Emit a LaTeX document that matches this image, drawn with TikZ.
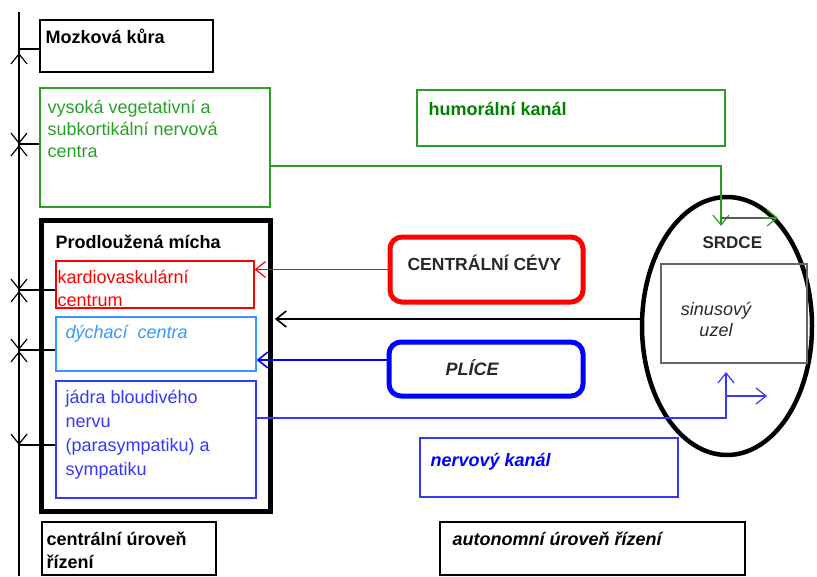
\documentclass[tikz,border=0pt]{standalone}
\usepackage{fontspec}
\setmainfont{Liberation Sans}
\usetikzlibrary{arrows.meta,shapes.geometric}
\definecolor{grn}{RGB}{40,160,40}
\definecolor{dgrn}{RGB}{0,128,0}
\definecolor{lblue}{RGB}{51,153,255}
\definecolor{mblue}{RGB}{55,55,250}
\definecolor{dgray}{RGB}{40,40,40}

\begin{document}
\begin{tikzpicture}[x=1pt, y=-1pt, line width=1.2pt,
    txt/.style={inner sep=0pt, anchor=base west, align=left, font=\fontsize{18}{22}\selectfont},
    barb/.style={-{Straight Barb[length=10pt,width=16pt]}},
    thinbox/.style={draw, inner sep=0pt},
    fatbox/.style={draw, inner sep=0pt, line width=5pt, rounded corners=12pt}]
  \useasboundingbox (0,0) rectangle (817,576);

  % boxes
  \node[thinbox, minimum width=173pt, minimum height=52pt] (moz) at (126.5,46) {};
  \node[thinbox, grn, minimum width=230pt, minimum height=119pt] (vys) at (155,147.5) {};
  \node[draw, inner sep=0pt, line width=5pt, minimum width=229pt, minimum height=291pt] (mich) at (155.5,365.5) {};
  \node[thinbox, red, minimum width=198pt, minimum height=47pt] (kard) at (155,284.5) {};
  \node[thinbox, lblue, minimum width=200pt, minimum height=54pt] (dych) at (156,344) {};
  \node[thinbox, mblue, minimum width=200pt, minimum height=117pt] (jadra) at (156,439.5) {};
  \node[fatbox, red, minimum width=193pt, minimum height=65pt] (cevy) at (486.5,269.5) {};
  \node[fatbox, blue, minimum width=194pt, minimum height=54pt] (plice) at (486,369) {};
  \node[thinbox, grn, minimum width=308pt, minimum height=56pt] (humor) at (571,118) {};
  \node[thinbox, mblue, minimum width=258pt, minimum height=59pt] (nerv) at (549,467.5) {};
  \node[draw, ellipse, line width=4.5pt, minimum width=170pt, minimum height=258pt] (srdce) at (727,326) {};
  \node[thinbox, gray!80!black, minimum width=146pt, minimum height=99pt] (sinus) at (734,313.5) {};
  \node[thinbox, minimum width=174pt, minimum height=53pt] (centr) at (129,548.5) {};
  \node[thinbox, minimum width=305pt, minimum height=53pt] (auton) at (592.5,548.5) {};

  % texts (multi-line ones sit on the baseline of their last line)
  \node[txt, font=\fontsize{18}{22}\selectfont\bfseries] (tmoz) at (45,43) {Mozková kůra};
  \node[txt, grn] (tvys) at (47,157) {vysoká vegetativní a\\subkortikální nervová\\centra};
  \node[txt, font=\fontsize{18}{22}\selectfont\bfseries] (tmich) at (55,248) {Prodloužená mícha};
  \node[txt, red, font=\fontsize{18}{23}\selectfont] (tkard) at (57,306) {kardiovaskulární\\centrum};
  \node[txt, lblue, font=\fontsize{18}{22}\selectfont\itshape] (tdych) at (65,338) {dýchací\ \ centra};
  \node[txt, mblue, font=\fontsize{18}{24}\selectfont] (tjadra) at (65,475) {jádra bloudivého\\nervu\\(parasympatiku) a\\sympatiku};
  \node[txt, dgray, font=\fontsize{17.5}{22}\selectfont\bfseries] (tcevy) at (407,270) {CENTRÁLNÍ CÉVY};
  \node[txt, dgray, font=\fontsize{18}{22}\selectfont\bfseries\itshape] (tplice) at (445,375) {PLÍCE};
  \node[txt, dgray, font=\fontsize{17}{22}\selectfont\bfseries] (tsrdce) at (702,248) {SRDCE};
  \node[inner sep=0pt, anchor=base, align=center, dgray, font=\fontsize{18}{21}\selectfont\itshape] (tsinus) at (716,336) {sinusový\\uzel};
  \node[txt, dgrn, font=\fontsize{18}{22}\selectfont\bfseries] (thumor) at (428,115) {humorální kanál};
  \node[txt, blue, font=\fontsize{18}{22}\selectfont\bfseries\itshape] (tnerv) at (430,466) {nervový kanál};
  \node[txt, font=\fontsize{18}{23}\selectfont\bfseries] (tcentr) at (46,568) {centrální úroveň\\řízení};
  \node[txt, font=\fontsize{18}{22}\selectfont\bfseries\itshape] (tauton) at (452,545) {autonomní úroveň řízení};

  % left axis
  \coordinate (axtop) at (19,12);
  \coordinate (axbot) at (19,576);
  \draw (axtop) -- (axbot);
  \coordinate (jmoz) at (19,49);
  \coordinate (jvys) at (19,144);
  \coordinate (jkard) at (19,290);
  \coordinate (jdych) at (19,350);
  \coordinate (jjad) at (19,445);
  \draw (jmoz) -- (jmoz -| moz.west);
  \draw (jvys) -- (jvys -| vys.west);
  \draw (jkard) -- (jkard -| kard.west);
  \draw (jdych) -- (jdych -| dych.west);
  \draw (jjad) -- (jjad -| jadra.west);
  \draw[barb] ([yshift=-18pt]jmoz) -- ([yshift=-4pt]jmoz);
  \foreach \j in {jvys,jkard,jdych} {
    \draw[barb] ([yshift=16pt]\j) -- (\j);
    \draw[barb] ([yshift=-15pt]\j) -- ([yshift=-1pt]\j);
  }
  \draw[barb] ([yshift=16pt]jjad) -- (jjad);

  % connectors
  \draw[red, barb] (cevy.west) -- (cevy.west -| kard.east);
  \coordinate (hs) at ([yshift=7pt]srdce.west);
  \draw[barb, line width=1.6pt] (hs) -- ([xshift=2.5pt]hs -| mich.east);
  \coordinate (pl) at ([yshift=9pt]plice.west);
  \draw[blue, barb, line width=1.6pt] (pl) -- (pl -| dych.east);

  \coordinate (jr) at ([yshift=21.5pt]jadra.east);
  \coordinate (nup) at (726,372);
  \draw[mblue, barb] (jr) -| (nup);
  \coordinate (nbr) at (726,396);
  \coordinate (nbrend) at (767,396);
  \draw[mblue, barb] (nbr) -- (nbrend);

  \coordinate (vr) at ([yshift=-18.5pt]vys.east);
  \coordinate (hdown) at (721,226);
  \draw[grn, barb] (vr) -| (hdown);
  \coordinate (gbr) at (721,218);
  \coordinate (gmid) at (763,218);
  \coordinate (gbrend) at (778,218);
  \draw[grn, barb] (gmid) -- (gbrend);
  \draw[gray!70!black] (gbr) -- (gmid);
\end{tikzpicture}
\end{document}
